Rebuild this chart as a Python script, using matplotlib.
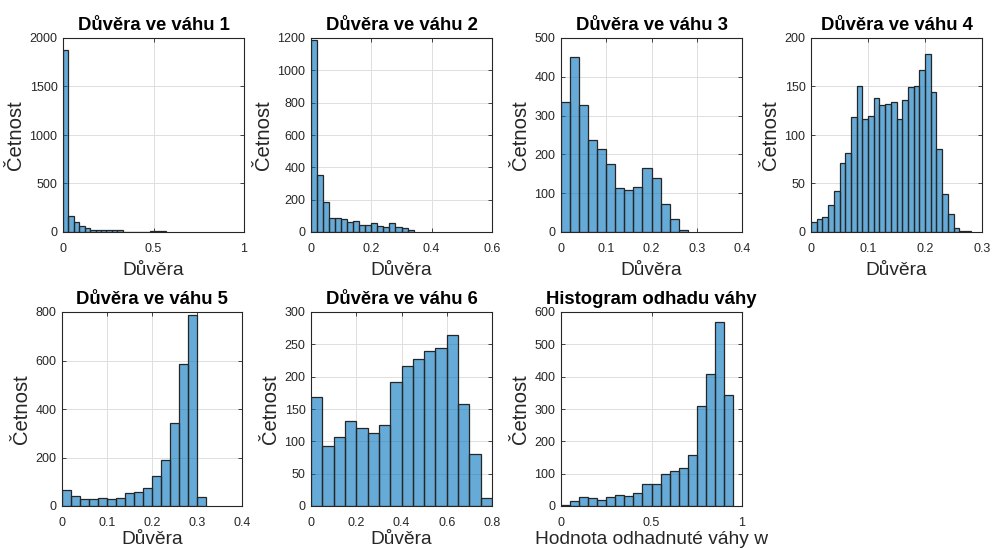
import matplotlib
matplotlib.use("Agg")
import matplotlib.pyplot as plt
import numpy as np
from matplotlib.ticker import FuncFormatter

plt.rcParams['font.family'] = ['Liberation Sans', 'DejaVu Sans']

# ---- data (bin counts) ----
titles = ["Důvěra ve váhu 1", "Důvěra ve váhu 2", "Důvěra ve váhu 3",
          "Důvěra ve váhu 4", "Důvěra ve váhu 5", "Důvěra ve váhu 6",
          "Histogram odhadu váhy"]
xlabels = ["Důvěra"] * 6 + ["Hodnota odhadnuté váhy w"]
ylabel = "Četnost"

bin_w1 = 0.03
counts1 = [1880, 167, 99, 65, 41, 17, 17, 17, 17, 17, 17, 0, 0, 0, 0, 0, 8, 8, 8]
bin_w2 = 0.02
counts2 = [1190, 355, 187, 87, 87, 81, 62, 67, 42, 45, 55, 37, 30, 55, 31, 24, 15]
bin_w3 = 0.02
counts3 = [336, 450, 328, 236, 213, 175, 113, 108, 115, 165, 138, 73, 33, 5]
bin_w4 = 0.01
counts4 = [10, 13, 15, 28, 42, 71, 81, 119, 151, 116, 120, 138, 131, 132,
           134, 117, 136, 149, 151, 167, 184, 144, 86, 39, 19, 4, 1, 1]
bin_w5 = 0.02
counts5 = [65, 40, 28, 30, 35, 28, 35, 53, 57, 75, 122, 188, 342, 585, 788, 38]
bin_w6 = 0.05
counts6 = [168, 93, 107, 132, 120, 113, 125, 192, 217, 228, 240, 245, 264, 157, 80, 13]
bin_w7 = 0.05
counts7 = [4, 17, 27, 24, 20, 29, 35, 32, 41, 69, 69, 100, 108, 116, 158, 308, 408, 568, 342]

all_counts = [counts1, counts2, counts3, counts4, counts5, counts6, counts7]
all_bw = [bin_w1, bin_w2, bin_w3, bin_w4, bin_w5, bin_w6, bin_w7]
xlims = [(0, 1), (0, 0.6), (0, 0.4), (0, 0.3), (0, 0.4), (0, 0.8), (0, 1)]
xticks = [[0, 0.5, 1], [0, 0.2, 0.4, 0.6], [0, 0.1, 0.2, 0.3, 0.4], [0, 0.1, 0.2, 0.3],
          [0, 0.1, 0.2, 0.3, 0.4], [0, 0.2, 0.4, 0.6, 0.8], [0, 0.5, 1]]
ylims = [(0, 2000), (0, 1200), (0, 500), (0, 200), (0, 800), (0, 300), (0, 600)]
ysteps = [500, 200, 100, 50, 200, 50, 100]

# ---- layout (pixels) ----
W, H = 999, 548
fig = plt.figure(figsize=(W / 100, H / 100), dpi=100)
lefts = [63, 311, 561, 811, 62, 311, 561]
rights = [244, 492, 742, 982, 242, 492, 742]
tops = [38, 38, 38, 38, 312, 312, 312]
bottoms = [232, 232, 232, 232, 506, 506, 506]
xlabelpads = [5, 5, 5, 5, 1, 1, 1]

face = (0.0, 0.447, 0.741)
axcol = (0.15, 0.15, 0.15)
fmt = FuncFormatter(lambda v, p: ('%g' % round(v, 6)))

for i in range(7):
    l, r, t, b = lefts[i], rights[i], tops[i], bottoms[i]
    ax = fig.add_axes([l / W, 1 - b / H, (r - l) / W, (b - t) / H])
    c = np.array(all_counts[i], dtype=float)
    edges = np.arange(len(c)) * all_bw[i]
    ax.bar(edges, c, width=all_bw[i], align='edge', color=face, alpha=0.6,
           edgecolor='none', zorder=2)
    ax.bar(edges, c, width=all_bw[i], align='edge', facecolor='none',
           edgecolor=axcol, linewidth=0.9, zorder=3)
    ax.set_xlim(*xlims[i])
    ax.set_ylim(*ylims[i])
    ax.set_xticks(xticks[i])
    ax.set_yticks(np.arange(ylims[i][0], ylims[i][1] + 1, ysteps[i]))
    ax.xaxis.set_major_formatter(fmt)
    ax.yaxis.set_major_formatter(fmt)
    ax.grid(True, color=(0.87, 0.87, 0.87), linewidth=0.7, zorder=0)
    ax.set_axisbelow(True)
    ax.tick_params(direction='in', length=3, width=0.6, top=True, right=True,
                   labelsize=9, colors=axcol)
    ax.tick_params(axis='x', pad=8)
    ax.tick_params(axis='y', pad=4)
    for sp in ax.spines.values():
        sp.set_color(axcol)
        sp.set_linewidth(0.8)
    ax.set_title(titles[i], fontsize=13.3, fontweight='bold', pad=6, color='black')
    ax.set_xlabel(xlabels[i], fontsize=13.8, color=axcol, labelpad=xlabelpads[i])
    ax.set_ylabel(ylabel, fontsize=14.6, color=axcol, labelpad=3)

fig.savefig("out.png", dpi=100, facecolor='white')
